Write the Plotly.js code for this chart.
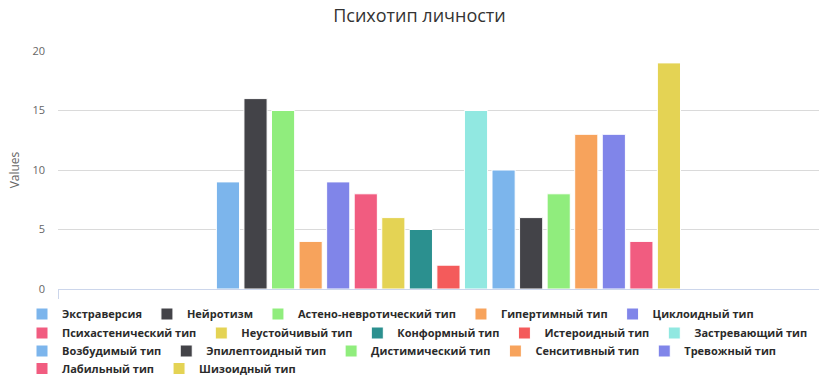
<!DOCTYPE html>
<html>
<head>
<meta charset="utf-8">
<script src="https://cdn.plot.ly/plotly-3.0.1.min.js"></script>
<style>html,body{margin:0;padding:0;background:#fff;}#chart{width:819px;height:383px;}</style>
</head>
<body>
<div id="chart"></div>
<script>
const seriesNames = [
  "Экстраверсия", "Нейротизм", "Астено-невротический тип", "Гипертимный тип", "Циклоидный тип",
  "Психастенический тип", "Неустойчивый тип", "Конформный тип", "Истероидный тип", "Застревающий тип",
  "Возбудимый тип", "Эпилептоидный тип", "Дистимический тип", "Сенситивный тип", "Тревожный тип",
  "Лабильный тип", "Шизоидный тип"
];
const seriesValues = [9, 16, 15, 4, 9, 8, 6, 5, 2, 15, 10, 6, 8, 13, 13, 4, 19];
const seriesColors = [
  "#7cb5ec", "#434348", "#90ed7d", "#f7a35c", "#8085e9",
  "#f15c80", "#e4d354", "#2b908f", "#f45b5b", "#91e8e1",
  "#7cb5ec", "#434348", "#90ed7d", "#f7a35c", "#8085e9",
  "#f15c80", "#e4d354"
];
const legendRowOf = [0,0,0,0,0, 1,1,1,1,1, 2,2,2,2,2, 3,3];
const categoryX = [0];
const yTicks = [0, 5, 10, 15, 20];

const legendIds = ["legend", "legend2", "legend3", "legend4"];

const traces = seriesNames.map((name, i) => ({
  type: "bar",
  name: name,
  x: categoryX,
  y: [seriesValues[i]],
  legend: legendIds[legendRowOf[i]],
  marker: { color: seriesColors[i], line: { color: "#ffffff", width: 1 } },
  hoverinfo: "name+y"
}));

const rowCentersPx = [314, 333, 351, 369];
const plotBottom = 289, plotHeight = 238, plotLeft = 58, plotWidth = 761;

function legendRow(k) {
  return {
    orientation: "h",
    x: (22 - plotLeft) / plotWidth, xanchor: "left",
    y: (plotBottom - rowCentersPx[k]) / plotHeight, yanchor: "middle",
    font: { family: "Open Sans, sans-serif", size: 11, color: "#2b2b2b", weight: "bold" },
    itemwidth: 30,
    borderwidth: 0,
    bgcolor: "rgba(0,0,0,0)"
  };
}

const layout = {
  width: 819,
  height: 383,
  margin: { l: 58, r: 0, t: 51, b: 94 },
  paper_bgcolor: "#ffffff",
  plot_bgcolor: "#ffffff",
  font: { family: "Open Sans, sans-serif", color: "#333333" },
  title: {
    text: "Психотип личности",
    font: { family: "Open Sans, sans-serif", size: 18, color: "#333333" },
    x: 419.5 / 819, xanchor: "center", xref: "container",
    y: 1 - 16 / 383, yanchor: "middle", yref: "container"
  },
  barmode: "group",
  bargap: 0.4,
  bargroupgap: 0.16,
  showlegend: true,
  legend: legendRow(0),
  legend2: legendRow(1),
  legend3: legendRow(2),
  legend4: legendRow(3),
  xaxis: {
    type: "linear",
    range: [-0.5, 0.4745],
    showgrid: false,
    zeroline: false,
    showline: true,
    linecolor: "#ccd6eb",
    linewidth: 1,
    tickvals: [-0.5],
    ticks: "outside",
    ticklen: 9,
    tickcolor: "#ccd6eb",
    showticklabels: false,
    fixedrange: true
  },
  yaxis: {
    range: [0, 20],
    tickvals: yTicks,
    ticktext: yTicks.map(String),
    showgrid: true,
    gridcolor: "#dadada",
    gridwidth: 1,
    zeroline: false,
    showline: false,
    ticks: "",
    ticklabelstandoff: 12,
    tickfont: { family: "Open Sans, sans-serif", size: 11, color: "#666666" },
    title: {
      text: "Values",
      font: { family: "Open Sans, sans-serif", size: 12, color: "#666666" },
      standoff: 10
    },
    automargin: false,
    fixedrange: true
  }
};

Plotly.newPlot("chart", traces, layout, { displayModeBar: false, staticPlot: true });
</script>
</body>
</html>
